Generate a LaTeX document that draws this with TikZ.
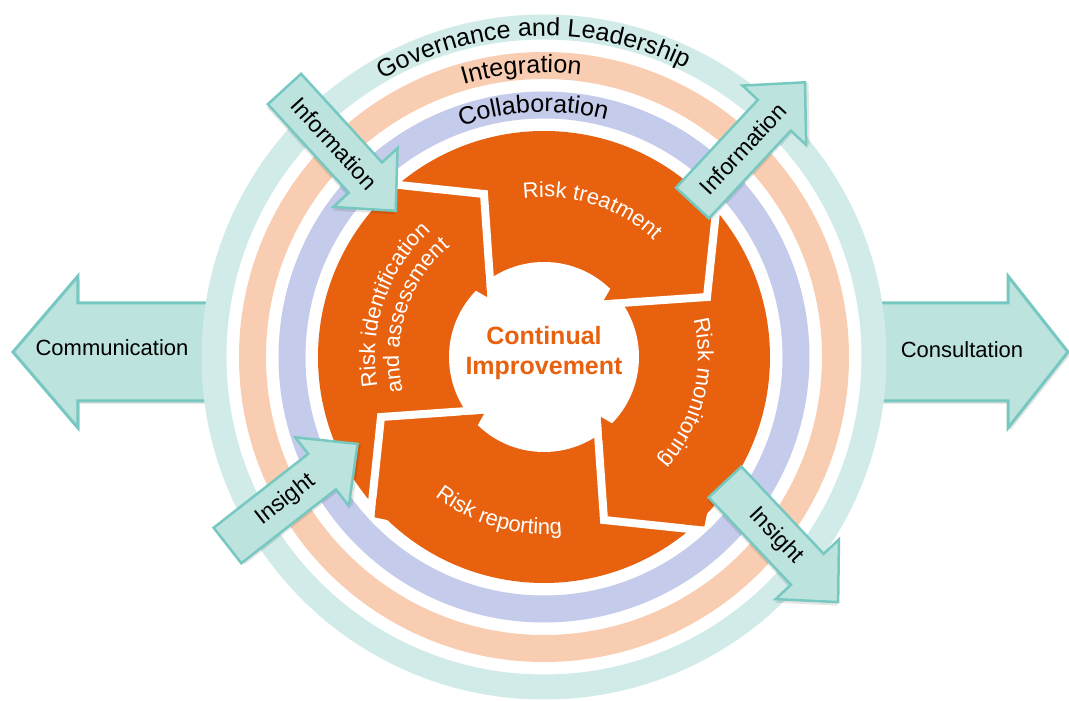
\documentclass[tikz,border=0pt]{standalone}
\usepackage{fontspec}
\setmainfont{Liberation Sans}
\usetikzlibrary{decorations.text}
\definecolor{ringteal}{RGB}{208,235,232}
\definecolor{ringpeach}{RGB}{249,205,177}
\definecolor{ringblue}{RGB}{197,203,234}
\definecolor{isoorange}{RGB}{232,97,14}
\definecolor{arrowfill}{RGB}{189,227,223}
\definecolor{arrowedge}{RGB}{118,200,193}
\newcommand\ringfont{\fontsize{25}{25}\selectfont}
\newcommand\segfont{\fontsize{22}{22}\selectfont}
\newcommand\smallarr[5]{%
  \begin{scope}[shift={(#2,#3)}, rotate=#4]
    \fill[arrowshadow] ([shift={(2,-3)}]0,-22.5) -- ([shift={(2,-3)}]120,-22.5) -- ([shift={(2,-3)}]120,-43.5) -- ([shift={(2,-3)}]165,0) -- ([shift={(2,-3)}]120,43.5) -- ([shift={(2,-3)}]120,22.5) -- ([shift={(2,-3)}]0,22.5) -- cycle;
    \draw[smallarrow] (0,-22.5) -- (120,-22.5) -- (120,-43.5) -- (165,0) -- (120,43.5) -- (120,22.5) -- (0,22.5) -- cycle;
    \node[arrowtext, rotate=#4] (#1) at (74,0) {#5};
  \end{scope}}
\begin{document}
\begin{tikzpicture}[x=1pt,y=1pt,
  bigarrow/.style={fill=arrowfill, draw=arrowedge, line width=3pt, line join=miter},
  smallarrow/.style={fill=arrowfill, draw=arrowedge, line width=2.5pt, line join=miter},
  arrowshadow/.style={fill=black, opacity=0.10},
  bigtext/.style={font=\fontsize{22}{22}\selectfont, text=black},
  arrowtext/.style={font=\fontsize{23}{23}\selectfont, text=black},
  ringlabel/.style={decorate, decoration={text along path, text align=center, text={|\ringfont|#1}}},
  seglabel/.style={decorate, decoration={text along path, text align=center, text color=white, text={|\segfont|#1}}},
  sepband/.style={draw=white, line width=8pt, line join=miter, line cap=butt},
  barb/.style={fill=isoorange}
]
\useasboundingbox (-544,-344) rectangle (525,357);

% big arrows
\fill[arrowshadow] (-318,51) -- (-464,51) -- (-464,78) -- (-529,2) -- (-464,-74) -- (-464,-47) -- (-318,-47) -- cycle;
\fill[arrowshadow] (322,51) -- (466,51) -- (466,78) -- (526,2) -- (466,-74) -- (466,-47) -- (322,-47) -- cycle;
\draw[bigarrow] (-320,54) -- (-466,54) -- (-466,81) -- (-531,5) -- (-466,-71) -- (-466,-44) -- (-320,-44) -- cycle;
\draw[bigarrow] (320,54) -- (464,54) -- (464,81) -- (524,5) -- (464,-71) -- (464,-44) -- (320,-44) -- cycle;
\node[bigtext] (comm) at (-432,9) {Communication};
\node[bigtext] (cons) at (418,7) {Consultation};

% rings
\draw[ringteal, line width=25pt] (0,0) circle[radius=330];
\draw[ringpeach, line width=27pt] (0,0) circle[radius=291.5];
\draw[ringblue, line width=27pt] (0,0) circle[radius=252];

\path[ringlabel={Governance and Leadership}] (152:321) arc[start angle=152, end angle=32, radius=321];
\path[ringlabel={Integration}] (154.5:284) arc[start angle=154.5, end angle=34.5, radius=284];
\path[ringlabel={Collaboration}] (152.5:245) arc[start angle=152.5, end angle=32.5, radius=245];

% orange wheel
\fill[isoorange] (0,0) circle[radius=226];
\fill[white] (0,0) circle[radius=95];
\foreach \r in {0,-90,-180,90} {
  \begin{scope}[rotate=\r]
    \draw[sepband] (173.5,159.5) -- (163,60) -- (58.3,52.7);
    \fill[barb] (167.5,141.4) -- (169.5,160.3) -- (152.8,163.8) -- cycle;
    \fill[barb] (82.9,58.4) -- (59.9,56.8) -- (67.4,69.8) -- cycle;
  \end{scope}
}

\path[seglabel={Risk treatment}] (132:160) arc[start angle=132, end angle=12, radius=160];
\path[seglabel={Risk monitoring}] (46:154) arc[start angle=46, end angle=-74, radius=154];
\path[seglabel={Risk reporting}] (194:177) arc[start angle=194, end angle=314, radius=177];
\path[seglabel={Risk identification}] (221:169) arc[start angle=221, end angle=101, radius=169];
\path[seglabel={and assessment}] (222:145) arc[start angle=222, end angle=102, radius=145];

\node[font=\bfseries\fontsize{25}{30}\selectfont, text=isoorange, align=center] (ci) at (0,4) {Continual\\Improvement};

% small arrows
\smallarr{infoL}{-259.5}{268}{-47.6}{Information}
\smallarr{infoR}{148.5}{154}{47}{Information}
\smallarr{insL}{-316.5}{-188.5}{38}{Insight}
\smallarr{insR}{181}{-125}{-46.7}{Insight}
\end{tikzpicture}
\end{document}
